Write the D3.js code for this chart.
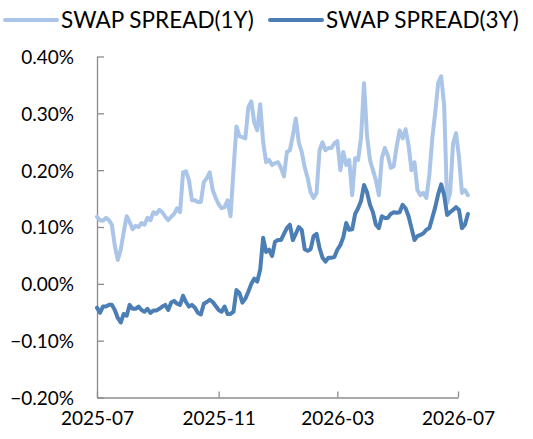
<!DOCTYPE html>
<html>
<head>
<meta charset="utf-8">
<script src="https://cdn.jsdelivr.net/npm/d3@7"></script>
<style>
  html, body { margin: 0; padding: 0; background: #fff; }
  svg { display: block; }
  text { font-family: Lato, "Open Sans", sans-serif; fill: #000; }
</style>
</head>
<body>
<svg id="chart" width="533" height="439"></svg>
<script>
// Observation dates (every third calendar day)
const dates = [
  "2025-07-01","2025-07-04","2025-07-07","2025-07-10","2025-07-13","2025-07-16","2025-07-19","2025-07-22","2025-07-25","2025-07-28",
  "2025-07-31","2025-08-03","2025-08-06","2025-08-09","2025-08-12","2025-08-15","2025-08-18","2025-08-21","2025-08-24","2025-08-27",
  "2025-08-30","2025-09-02","2025-09-05","2025-09-08","2025-09-11","2025-09-14","2025-09-17","2025-09-20","2025-09-23","2025-09-26",
  "2025-09-29","2025-10-02","2025-10-05","2025-10-08","2025-10-11","2025-10-14","2025-10-17","2025-10-20","2025-10-23","2025-10-26",
  "2025-10-29","2025-11-01","2025-11-04","2025-11-07","2025-11-10","2025-11-13","2025-11-16","2025-11-19","2025-11-22","2025-11-25",
  "2025-11-28","2025-12-01","2025-12-04","2025-12-07","2025-12-10","2025-12-13","2025-12-16","2025-12-19","2025-12-22","2025-12-25",
  "2025-12-28","2025-12-31","2026-01-03","2026-01-06","2026-01-09","2026-01-12","2026-01-15","2026-01-18","2026-01-21","2026-01-24",
  "2026-01-27","2026-01-30","2026-02-02","2026-02-05","2026-02-08","2026-02-11","2026-02-14","2026-02-17","2026-02-20","2026-02-23",
  "2026-02-26","2026-03-01","2026-03-04","2026-03-07","2026-03-10","2026-03-13","2026-03-16","2026-03-19","2026-03-22","2026-03-25",
  "2026-03-28","2026-03-31","2026-04-03","2026-04-06","2026-04-09","2026-04-12","2026-04-15","2026-04-18","2026-04-21","2026-04-24",
  "2026-04-27","2026-04-30","2026-05-03","2026-05-06","2026-05-09","2026-05-12","2026-05-15","2026-05-18","2026-05-21","2026-05-24",
  "2026-05-27","2026-05-30","2026-06-02","2026-06-05","2026-06-08","2026-06-11","2026-06-14","2026-06-17","2026-06-20","2026-06-23",
  "2026-06-26","2026-06-29","2026-07-02","2026-07-05","2026-07-08","2026-07-11"
];

// 1-year swap spread, in percent
const spread1Y = [
  0.118,0.112,0.111,0.116,0.112,0.104,0.067,0.042,0.060,0.091,
  0.119,0.109,0.096,0.102,0.100,0.107,0.104,0.116,0.112,0.126,
  0.123,0.130,0.126,0.118,0.112,0.118,0.123,0.133,0.126,0.196,
  0.198,0.182,0.147,0.147,0.144,0.144,0.179,0.186,0.196,0.165,
  0.151,0.140,0.133,0.135,0.147,0.119,0.200,0.277,0.260,0.258,
  0.256,0.311,0.321,0.284,0.270,0.316,0.249,0.214,0.218,0.209,
  0.212,0.214,0.204,0.189,0.232,0.235,0.261,0.291,0.249,0.232,
  0.205,0.186,0.161,0.151,0.160,0.235,0.249,0.235,0.239,0.239,
  0.247,0.251,0.200,0.232,0.209,0.218,0.156,0.221,0.218,0.258,
  0.353,0.261,0.218,0.200,0.182,0.156,0.221,0.239,0.226,0.204,
  0.207,0.242,0.270,0.256,0.272,0.244,0.200,0.214,0.165,0.156,
  0.160,0.151,0.191,0.256,0.302,0.354,0.365,0.314,0.142,0.160,
  0.247,0.265,0.223,0.160,0.165,0.156
];

// 3-year swap spread, in percent
const spread3Y = [
  -0.042,-0.051,-0.040,-0.040,-0.037,-0.037,-0.046,-0.060,-0.068,-0.053,
  -0.056,-0.037,-0.044,-0.044,-0.040,-0.046,-0.049,-0.044,-0.051,-0.047,
  -0.047,-0.044,-0.040,-0.037,-0.046,-0.033,-0.030,-0.035,-0.037,-0.021,
  -0.032,-0.040,-0.037,-0.042,-0.051,-0.054,-0.035,-0.032,-0.028,-0.032,
  -0.039,-0.046,-0.049,-0.040,-0.053,-0.053,-0.049,-0.011,-0.016,-0.033,
  -0.026,-0.014,0.000,0.009,0.004,0.025,0.081,0.056,0.060,0.049,
  0.074,0.077,0.077,0.088,0.098,0.104,0.077,0.088,0.100,0.095,
  0.061,0.058,0.061,0.084,0.088,0.063,0.046,0.039,0.046,0.046,
  0.047,0.060,0.068,0.082,0.107,0.095,0.096,0.123,0.133,0.146,
  0.174,0.161,0.139,0.126,0.104,0.098,0.119,0.116,0.116,0.123,
  0.126,0.125,0.126,0.139,0.133,0.119,0.098,0.077,0.084,0.086,
  0.089,0.095,0.098,0.116,0.135,0.158,0.175,0.156,0.121,0.126,
  0.130,0.135,0.130,0.098,0.104,0.123
];

const seriesNames = ["SWAP SPREAD(1Y)", "SWAP SPREAD(3Y)"];
const seriesColors = ["#aac5e7", "#4a7eb4"];
const yTicks = [-0.2, -0.1, 0.0, 0.1, 0.2, 0.3, 0.4];
const xTicks = ["2025-07-01", "2025-11-01", "2026-03-01", "2026-07-01"];

const parse = d3.timeParse("%Y-%m-%d");
const svg = d3.select("#chart");

const plot = { left: 97, right: 458, top: 56.5, bottom: 397.5 };

const x = d3.scaleTime()
  .domain([parse(xTicks[0]), parse(xTicks[xTicks.length - 1])])
  .range([plot.left, plot.right]);

const y = d3.scaleLinear()
  .domain([-0.2, 0.4])
  .range([plot.bottom, plot.top]);

const axisColor = "#8c8c8c";

// Value axis: ticks point into the plot
const yAxis = svg.append("g")
  .attr("transform", `translate(${plot.left},0)`)
  .call(d3.axisLeft(y).tickValues(yTicks).tickSizeInner(-7).tickSizeOuter(0)
    .tickPadding(23).tickFormat(d => d3.format(".2f")(d) + "%"));
yAxis.selectAll("path, line").attr("stroke", axisColor).attr("stroke-width", 1.3);
yAxis.selectAll("text").style("font-size", "19px").attr("dy", "0.36em");

// Date axis
const xAxis = svg.append("g")
  .attr("transform", `translate(0,${plot.bottom})`)
  .call(d3.axisBottom(x).tickValues(xTicks.map(parse)).tickSizeInner(-6).tickSizeOuter(0)
    .tickPadding(14).tickFormat(d3.timeFormat("%Y-%m")));
xAxis.selectAll("path, line").attr("stroke", axisColor).attr("stroke-width", 1.3);
xAxis.selectAll("text").style("font-size", "19px").attr("dy", "0.71em");

const parsedDates = dates.map(parse);
const line = d3.line()
  .x((d, i) => x(parsedDates[i]))
  .y(d => y(d))
  .curve(d3.curveLinear);

[spread1Y, spread3Y].forEach((vals, k) => {
  svg.append("path")
    .datum(vals)
    .attr("fill", "none")
    .attr("stroke", seriesColors[k])
    .attr("stroke-width", 4)
    .attr("stroke-linejoin", "round")
    .attr("stroke-linecap", "round")
    .attr("d", line);
});

// Legend
const legendItems = [
  { x1: 5, x2: 57, tx: 61 },
  { x1: 270, x2: 322, tx: 326 }
];
legendItems.forEach((it, k) => {
  svg.append("line")
    .attr("x1", it.x1).attr("x2", it.x2)
    .attr("y1", 20).attr("y2", 20)
    .attr("stroke", seriesColors[k])
    .attr("stroke-width", 4)
    .attr("stroke-linecap", "round");
  svg.append("text")
    .attr("x", it.tx).attr("y", 28)
    .style("font-size", "22.5px")
    .text(seriesNames[k]);
});
</script>
</body>
</html>
